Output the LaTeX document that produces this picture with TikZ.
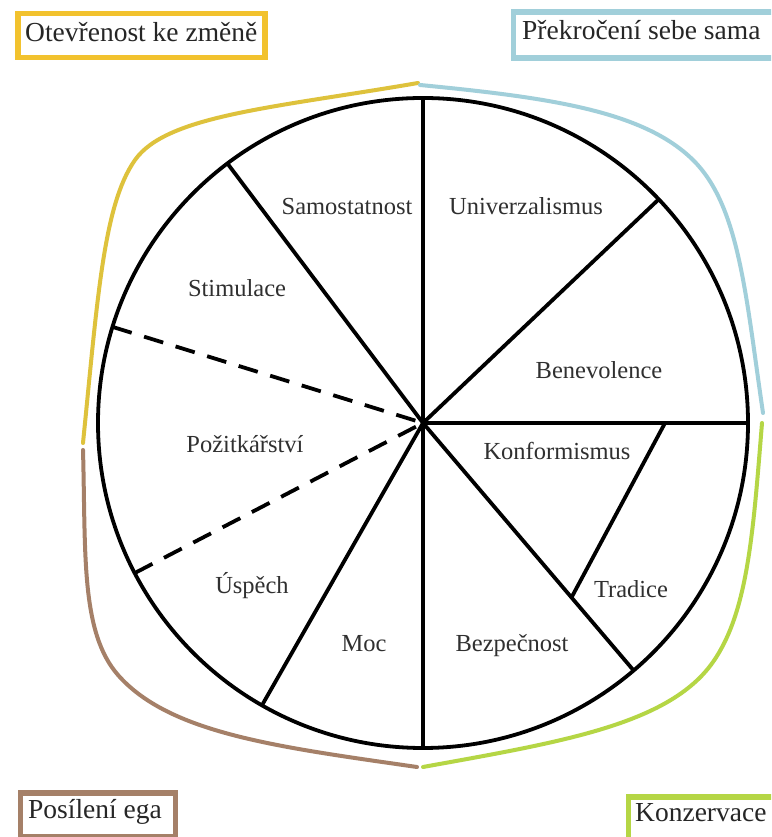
\documentclass[tikz,border=0pt]{standalone}
\usepackage{fontspec}
\setmainfont{Liberation Serif}
\usetikzlibrary{calc}

\definecolor{openframe}{HTML}{F2C22E}
\definecolor{openarc}{HTML}{DEC23C}
\definecolor{transframe}{HTML}{A1CFDA}
\definecolor{egoframe}{HTML}{A58068}
\definecolor{consframe}{HTML}{B5D645}
\definecolor{labelgray}{HTML}{303030}

\tikzset{
  wheel/.style={line width=3.8pt, black},
  dashedspoke/.style={wheel, dash pattern=on 20pt off 13pt},
  value/.style={font=\fontsize{24.5}{28}\selectfont, text=labelgray, inner sep=0pt, anchor=base},
  framebox/.style={draw=#1, line width=5.5pt, fill=white, inner sep=0pt, anchor=north west},
  framelabel/.style={font=\fontsize{27.5}{32}\selectfont, text=black!85, inner sep=0pt, anchor=base west},
  bracket/.style={draw=#1, line width=4pt, line cap=round, line join=round}
}

\begin{document}
\begin{tikzpicture}[x=1pt, y=1pt]
  \useasboundingbox (0,0) rectangle (771,837);
  \clip (0,0) rectangle (771,837);
  \fill[white] (0,0) rectangle (771,837);

  % centre of the value wheel and the ends of its spokes
  \coordinate (c) at (423,414);
  \coordinate (top) at ($(c)+(90:325)$);
  \coordinate (bottom) at ($(c)+(270:325)$);
  \coordinate (right) at ($(c)+(0:325)$);
  \coordinate (sam) at ($(c)+(127:325)$);
  \coordinate (ben) at ($(c)+(43.5:325)$);
  \coordinate (dup) at ($(c)+(162.8:325)$);
  \coordinate (dlo) at ($(c)+(207.5:325)$);
  \coordinate (usp) at ($(c)+(240.3:325)$);
  \coordinate (bez) at ($(c)+(310.4:325)$);
  \coordinate (k1) at (665,414);
  \coordinate (k2) at ($(c)!0.705!(bez)$);

  % group brackets around the wheel
  \draw[bracket=openarc] (418,754)
    .. controls (274.2,729.2) and (166.7,721.9) .. (135,677)
    .. controls (103.3,632.1) and (97.5,537.3) .. (83,394);
  \draw[bracket=transframe] (420,752)
    .. controls (546.7,739.6) and (642.7,726.7) .. (693,677)
    .. controls (739.6,631) and (745.8,540.6) .. (763,424);
  \draw[bracket=consframe] (762,414)
    .. controls (753.1,304.6) and (748,225) .. (713,175)
    .. controls (668.8,111.9) and (559.4,94.8) .. (423,70);
  \draw[bracket=egoframe] (83,387)
    .. controls (85.8,284.4) and (80.4,204.8) .. (118,162)
    .. controls (169.6,103.3) and (277.7,90.1) .. (417,70);

  % the wheel
  \draw[wheel] (c) circle[radius=325pt];
  \draw[wheel] (c) -- (top);
  \draw[wheel] (c) -- (bottom);
  \draw[wheel] (c) -- (right);
  \draw[wheel] (c) -- (sam);
  \draw[wheel] (c) -- (ben);
  \draw[wheel] (c) -- (usp);
  \draw[wheel] (c) -- (bez);
  \draw[wheel] (k1) -- (k2);
  \draw[dashedspoke] (dup) -- (c);
  \draw[dashedspoke] (dlo) -- (c);

  % values
  \node[value] (samostatnost) at (347,622) {Samostatnost};
  \node[value] (univerzalismus) at (526,622) {Univerzalismus};
  \node[value] (stimulace) at (237,540) {Stimulace};
  \node[value] (benevolence) at (599,458) {Benevolence};
  \node[value] (pozitkarstvi) at (245,384) {Požitkářství};
  \node[value] (konformismus) at (557,377) {Konformismus};
  \node[value] (uspech) at (252,243) {Úspěch};
  \node[value] (tradice) at (631,239) {Tradice};
  \node[value] (moc) at (364,185) {Moc};
  \node[value] (bezpecnost) at (512,185) {Bezpečnost};

  % group titles
  \node[framebox=openframe, minimum width=247pt, minimum height=44pt] (openbox) at (15,826) {};
  \node[framelabel] (opentitle) at (25,795) {Otevřenost ke změně};
  \node[framebox=transframe, minimum width=280pt, minimum height=46pt] (transbox) at (510.5,827.5) {};
  \node[framelabel] (transtitle) at (522,797) {Překročení sebe sama};
  \node[framebox=egoframe, minimum width=155pt, minimum height=44pt] (egobox) at (17.5,46.5) {};
  \node[framelabel] (egotitle) at (28,18) {Posílení ega};
  \node[framebox=consframe, minimum width=170pt, minimum height=50pt] (consbox) at (625.5,42.5) {};
  \node[framelabel] (constitle) at (635,15) {Konzervace};
\end{tikzpicture}
\end{document}
